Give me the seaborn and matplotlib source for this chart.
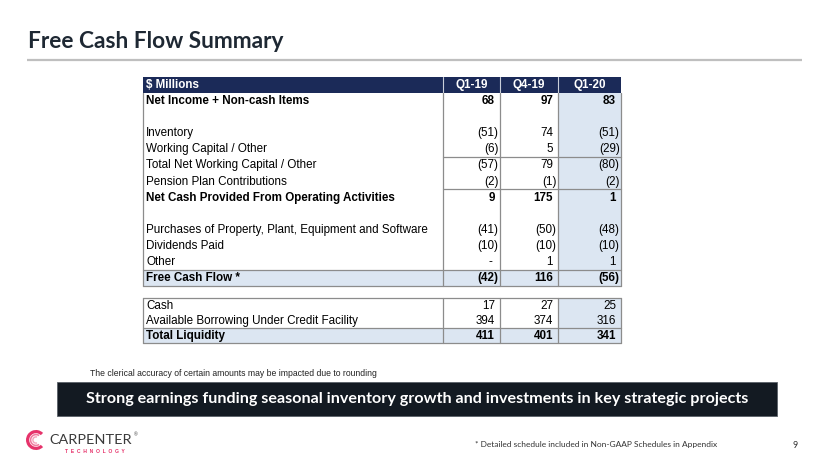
import matplotlib
matplotlib.use("Agg")
import matplotlib.pyplot as plt
import matplotlib.patches as mpatches
import seaborn as sns

sns.set_theme(style="white")
plt.rcParams['font.family'] = ['Liberation Sans', 'DejaVu Sans']

# ---------------- data ----------------
columns = ["Q1-19", "Q4-19", "Q1-20"]
row_labels = ["Net Income + Non-cash Items", "", "Inventory", "Working Capital / Other",
              "Total Net Working Capital / Other", "Pension Plan Contributions",
              "Net Cash Provided From Operating Activities", "",
              "Purchases of Property, Plant, Equipment and Software", "Dividends Paid",
              "Other", "Free Cash Flow *"]
q1_19 = [68, None, -51, -6, -57, -2, 9, None, -41, -10, 0, -42]
q4_19 = [97, None, 74, 5, 79, -1, 175, None, -50, -10, 1, 116]
q1_20 = [83, None, -51, -29, -80, -2, 1, None, -48, -10, 1, -56]
bold_rows = [0, 6, 11]

liq_labels = ["Cash", "Available Borrowing Under Credit Facility", "Total Liquidity"]
liq_q1_19 = [17, 394, 411]
liq_q4_19 = [27, 374, 401]
liq_q1_20 = [25, 316, 341]

title = "Free Cash Flow Summary"
note = "The clerical accuracy of certain amounts may be impacted due to rounding"
banner = "Strong earnings funding seasonal inventory growth and investments in key strategic projects"
footer = "* Detailed schedule included in Non-GAAP Schedules in Appendix"
page = "9"

# ---------------- layout ----------------
W, H = 830, 467
fig = plt.figure(figsize=(W / 100, H / 100), dpi=100)
ax = fig.add_axes([0, 0, 1, 1])
ax.set_xlim(0, W)
ax.set_ylim(H, 0)
ax.axis("off")

NAVY = "#1B2A58"
SHADE = "#DCE6F2"
GRID = "#8C8C8C"
TXT = "#000000"
FS = 8.4

xL, xs = 143, [443, 500, 558, 621]
hdr_top, hdr_bot = 77, 92.5
pitch = 16.1

# title
ax.text(28, 41, title, fontsize=16.3, fontweight="bold", family=["Lato", "DejaVu Sans"],
        color="#1E2833", va="center", ha="left")
ax.plot([27, 802], [59.5, 59.5], color="#BFBFBF", lw=1.6, solid_capstyle="butt")

# header
ax.add_patch(mpatches.Rectangle((xL, hdr_top), xs[-1] - xL, hdr_bot - hdr_top,
                                facecolor=NAVY, edgecolor="none"))
ax.text(xL + 3, (hdr_top + hdr_bot) / 2 + 0.5, "$ Millions", color="white", fontsize=FS,
        fontweight="bold", va="center", ha="left")
for i, c in enumerate(columns):
    cx = (xs[i] + xs[i + 1]) / 2
    ax.text(cx, (hdr_top + hdr_bot) / 2 + 0.5, c, color="white", fontsize=FS,
            fontweight="bold", va="center", ha="center")
for x in xs[:-1]:
    ax.plot([x, x], [hdr_top, hdr_bot], color="#C9CED9", lw=0.8)


def fmt_cell(v, xr, y, bold):
    if v is None:
        return
    w = "bold" if bold else "normal"
    if v < 0:
        ax.text(xr - 1.5, y, f"({abs(v)})", fontsize=FS, fontweight=w, color=TXT,
                va="center", ha="right")
    elif v == 0:
        ax.text(xr - 8, y, "-", fontsize=FS, fontweight=w, color=TXT, va="center", ha="right")
    else:
        ax.text(xr - 5, y, f"{v}", fontsize=FS, fontweight=w, color=TXT,
                va="center", ha="right")


def draw_table(labels, cols, top, pitch, bold_rows, shade_rows, hlines_num, hlines_full):
    n = len(labels)
    bot = top + pitch * n
    ax.add_patch(mpatches.Rectangle((xs[2], top), xs[3] - xs[2], bot - top,
                                    facecolor=SHADE, edgecolor="none"))
    for r in shade_rows:
        ax.add_patch(mpatches.Rectangle((xL, top + pitch * r), xs[3] - xL, pitch,
                                        facecolor=SHADE, edgecolor="none"))
    for r, lab in enumerate(labels):
        y = top + pitch * (r + 0.5) + 0.5
        b = r in bold_rows
        if lab:
            ax.text(xL + 3, y, lab, fontsize=FS, fontweight="bold" if b else "normal",
                    color=TXT, va="center", ha="left")
        for j, col in enumerate(cols):
            fmt_cell(col[r], xs[j + 1], y, b)
    for x in [xL] + xs:
        ax.plot([x, x], [top, bot], color=GRID, lw=0.9)
    ax.plot([xL, xs[-1]], [bot, bot], color=GRID, lw=0.9)
    for r in hlines_num:
        yy = top + pitch * r
        ax.plot([xs[0], xs[-1]], [yy, yy], color=GRID, lw=0.9)
    for r in hlines_full:
        yy = top + pitch * r
        ax.plot([xL, xs[-1]], [yy, yy], color=GRID, lw=0.9)
    return bot


draw_table(row_labels, [q1_19, q4_19, q1_20], hdr_bot, pitch, bold_rows, [11],
           [4, 6], [11])
liq_top = 297.5
ax.plot([xL, xs[-1]], [liq_top, liq_top], color=GRID, lw=0.9)
draw_table(liq_labels, [liq_q1_19, liq_q4_19, liq_q1_20], liq_top, 15.2, [2], [2],
           [], [2])

# note
ax.text(90, 374, note, fontsize=6.2, color="#222222", va="center", ha="left")

# banner
ax.add_patch(mpatches.Rectangle((57, 382), 720, 34, facecolor="#131A22", edgecolor="#5A6068",
                                lw=0.6))
ax.text(417, 399.5, banner, fontsize=11.6, fontweight="bold", family=["Lato", "DejaVu Sans"],
        color="white", va="center", ha="center")

# logo
PINK = "#E6336B"
ax.add_patch(mpatches.Wedge((36, 440), 10, 45, 315, width=3.2, facecolor=PINK, edgecolor="none"))
ax.add_patch(mpatches.Wedge((36, 440), 6.2, 55, 305, width=1.6, facecolor="#F07CA0", edgecolor="none"))
ax.add_patch(mpatches.Wedge((36, 440), 3.8, 70, 290, width=1.4, facecolor="#F5A3BD", edgecolor="none"))
ax.text(49, 440, "CARPENTER", fontsize=10.4, family=["Lato", "DejaVu Sans"], color="#3A3A3A",
        va="center", ha="left")
ax.text(134, 435, "\u00ae", fontsize=3.5, color="#3A3A3A", va="center", ha="left")
ax.text(95, 451.5, "T  E  C  H  N  O  L  O  G  Y", fontsize=3.6, fontweight="bold", color=PINK,
        va="center", ha="center")

# footer
ax.text(475, 445, footer, fontsize=6.0, family=["Lato", "DejaVu Sans"], color="#333333",
        va="center", ha="left")
ax.text(795, 445, page, fontsize=6.3, family=["Lato", "DejaVu Sans"], color="#333333",
        va="center", ha="center")

fig.savefig("out.png", dpi=100)
